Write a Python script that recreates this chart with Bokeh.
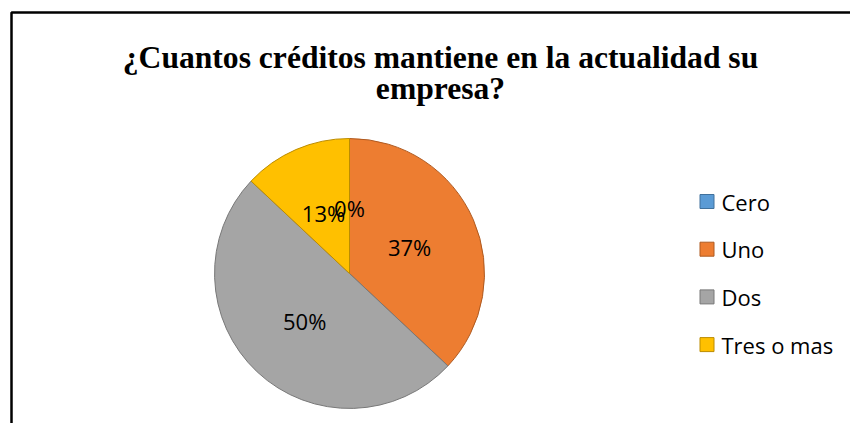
import numpy as np
from bokeh.plotting import figure
from bokeh.models import Range1d, ColumnDataSource, Label
from bokeh.core.properties import value
from bokeh.embed import file_html
from bokeh.resources import INLINE

# ---- data ----
title_lines = ["¿Cuantos créditos mantiene en la actualidad su", "empresa?"]
categories = ["Cero", "Uno", "Dos", "Tres o mas"]
percents = [0, 37, 50, 13]
colors = ["#5B9BD5", "#ED7D31", "#A5A5A5", "#FFC000"]
edge_colors = ["#41719C", "#AE5A21", "#787878", "#BC8C00"]

W, H = 850, 423
p = figure(width=W, height=H, output_backend="svg", toolbar_location=None,
           x_range=Range1d(0, W), y_range=Range1d(0, H), min_border=0)
p.axis.visible = False
p.grid.visible = False
p.outline_line_color = None
p.background_fill_color = "white"

def Y(yimg):
    return H - yimg

# frame (cropped chart border)
p.line([11, 11, 870], [Y(440), Y(12), Y(12)], line_color="black", line_width=2.5)

# title
for i, t in enumerate(title_lines):
    p.add_layout(Label(x=440, y=Y(57 + 31 * i), text=t, text_align="center",
                       text_baseline="alphabetic", text_font="Liberation Serif",
                       text_font_style="bold", text_font_size="31.6px", text_color="black"))

# pie
cx, cy, r = 349, Y(273), 135
vals = np.array(percents, dtype=float)
frac = vals / vals.sum()
cum_end = np.cumsum(frac)
cum_start = cum_end - frac
start = np.pi / 2 - cum_end * 2 * np.pi
end = np.pi / 2 - cum_start * 2 * np.pi
mask = vals > 0
src = ColumnDataSource(dict(start=start[mask], end=end[mask],
                            fill=[c for c, m in zip(colors, mask) if m],
                            edge=[c for c, m in zip(edge_colors, mask) if m]))
p.wedge(x=cx, y=cy, radius=r, start_angle="start", end_angle="end",
        fill_color="fill", line_color="edge", line_width=1, source=src)

mid = (start + end) / 2
lr = 0.485 * r
lsrc = ColumnDataSource(dict(x=cx + lr * np.cos(mid), y=cy + lr * np.sin(mid),
                             t=[f"{v:g}%" for v in percents]))
p.text(x="x", y="y", text="t", source=lsrc, text_align="center", text_baseline="middle",
       text_font=value("Open Sans"), text_font_size="22px", text_color="black")

# legend
lx, ly0, step = 706.5, 201, 47.7
ys = [Y(ly0 + step * i) for i in range(len(categories))]
p.rect(x=[lx] * len(categories), y=ys, width=14, height=14,
       fill_color=colors, line_color=edge_colors, line_width=1)
p.text(x=[721] * len(categories), y=ys, text=categories, text_align="left",
       text_baseline="middle", text_font=value("Open Sans"), text_font_size="22px",
       text_color="black")

open("out.html", "w").write(file_html(p, INLINE))
